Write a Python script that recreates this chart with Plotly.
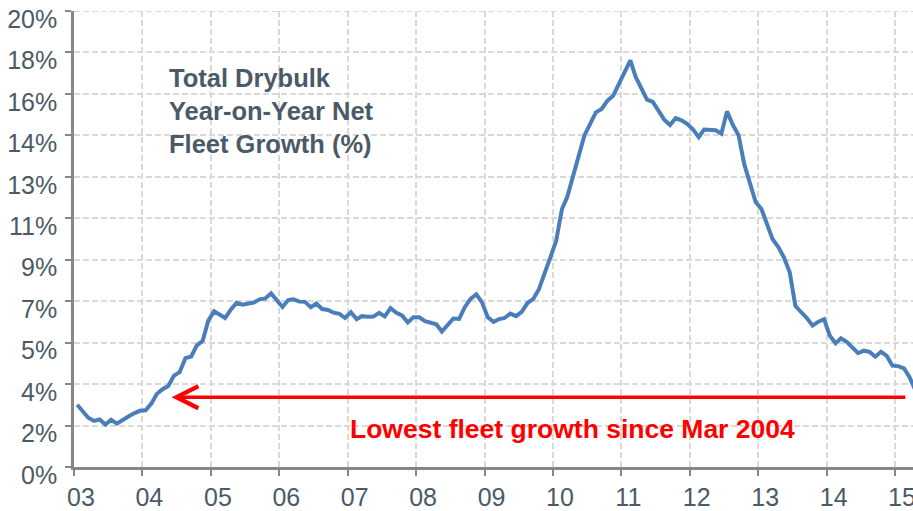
import pandas as pd
import plotly.graph_objects as go

# Monthly year-on-year net fleet growth (%), Jan 2003 onwards
growth = [
    2.70, 2.38, 2.14, 2.00, 2.06, 1.84, 2.05, 1.88, 2.06, 2.19, 2.33, 2.44,   # 2003
    2.46, 2.75, 3.17, 3.38, 3.52, 3.97, 4.12, 4.73, 4.80, 5.28, 5.48, 6.36,   # 2004
    6.76, 6.62, 6.47, 6.84, 7.13, 7.05, 7.08, 7.14, 7.28, 7.32, 7.54, 7.22,   # 2005
    6.95, 7.25, 7.28, 7.18, 7.17, 6.94, 7.10, 6.86, 6.82, 6.70, 6.65, 6.47,   # 2006
    6.72, 6.42, 6.55, 6.52, 6.53, 6.69, 6.54, 6.90, 6.70, 6.58, 6.28, 6.50,   # 2007
    6.50, 6.33, 6.25, 6.20, 5.88, 6.15, 6.45, 6.43, 6.95, 7.30, 7.50, 7.15,   # 2008
    6.50, 6.30, 6.42, 6.47, 6.66, 6.55, 6.74, 7.12, 7.30, 7.72, 8.38, 9.10,   # 2009
    9.82, 11.20, 11.72, 12.55, 13.50, 14.40, 14.86, 15.40, 15.55, 15.90, 16.12, 16.62,  # 2010
    17.20, 17.66, 16.95, 16.46, 15.95, 15.85, 15.44, 15.08, 14.85, 15.15, 15.05, 14.90,  # 2011
    14.66, 14.32, 14.65, 14.64, 14.62, 14.47, 15.44, 14.86, 14.40, 13.15, 12.35, 11.50,  # 2012
    11.20, 10.45, 9.90, 9.55, 9.10, 8.45, 7.00, 6.72, 6.46, 6.14, 6.31, 6.42,  # 2013
    5.70, 5.37, 5.59, 5.44, 5.18, 4.94, 5.05, 5.00, 4.79, 5.00, 4.82, 4.40,   # 2014
    4.38, 4.28, 3.92, 3.37,                                                   # 2015
]
months = pd.date_range("2003-01-01", periods=len(growth), freq="MS") + pd.Timedelta(days=17)

year_ticks = [f"{y}-01-01" for y in range(2003, 2016)]
year_labels = ["03", "04", "05", "06", "07", "08", "09", "10", "11", "12", "13", "14", "15"]

y_tick_vals = [0, 1.8, 3.6, 5.4, 7.2, 9.0, 10.8, 12.6, 14.4, 16.2, 18.0, 19.8]
y_tick_text = ["0%", "2%", "4%", "5%", "7%", "9%", "11%", "13%", "14%", "16%", "18%", "20%"]

arrow_level = 3.03
arrow_tip = "2004-06-05"
arrow_tail = "2015-03-05"

FONT = "Arial, Liberation Sans, sans-serif"
TXT = "#4b5a66"
AX = "#868686"
GRID = "#d9d9d9"

fig = go.Figure()
fig.add_trace(go.Scatter(
    x=months, y=growth, mode="lines",
    line=dict(color="#4a7ebb", width=4),
    hoverinfo="skip", showlegend=False,
))

# top dashed gridline (plotly drops the gridline on the range edge)
fig.add_shape(
    type="line", xref="paper", yref="y", x0=0, x1=1, y0=y_tick_vals[-1], y1=y_tick_vals[-1],
    line=dict(color=GRID, width=1.8, dash="6px,3px"), layer="below",
)

fig.add_annotation(
    x=arrow_tip, y=arrow_level, xref="x", yref="y",
    ax=arrow_tail, ay=arrow_level, axref="x", ayref="y",
    text="", showarrow=True, arrowhead=5, arrowsize=1.2,
    arrowwidth=3.6, arrowcolor="#ff0000", standoff=0, startstandoff=0,
)
fig.add_annotation(
    x=0.5936, y=0.084, xref="paper", yref="paper",
    text="<b>Lowest fleet growth since Mar 2004</b>", showarrow=False,
    font=dict(family=FONT, size=26.5, color="#ff0000"),
    xanchor="center", yanchor="middle",
)
fig.add_annotation(
    x=0.111, y=0.888, xref="paper", yref="paper",
    text="<b>Total Drybulk<br>Year-on-Year Net<br>Fleet Growth (%)</b>",
    showarrow=False, align="left",
    font=dict(family=FONT, size=25.5, color=TXT),
    xanchor="left", yanchor="top",
)

fig.update_layout(
    width=913, height=511,
    margin=dict(l=74, r=0, t=11, b=44),
    paper_bgcolor="white", plot_bgcolor="white",
    font=dict(family=FONT, color=TXT),
    xaxis=dict(
        type="date", range=["2003-01-01", "2015-04-07"],
        tickmode="array", tickvals=year_ticks, ticktext=year_labels,
        showgrid=True, gridcolor=GRID, gridwidth=1.8, griddash="6px,3px",
        showline=True, linecolor=AX, linewidth=2.5,
        ticks="outside", ticklen=6, tickwidth=2, tickcolor=AX,
        tickfont=dict(family=FONT, size=25, color=TXT),
        ticklabelshift=7,
        zeroline=False, automargin=False, ticklabeloverflow="allow",
    ),
    yaxis=dict(
        range=[0, 19.8001],
        tickmode="array", tickvals=y_tick_vals, ticktext=y_tick_text,
        showgrid=True, gridcolor=GRID, gridwidth=1.8, griddash="6px,3px",
        showline=True, linecolor=AX, linewidth=2.5,
        ticks="outside", ticklen=6, tickwidth=2, tickcolor=AX,
        tickfont=dict(family=FONT, size=25, color=TXT),
        ticklabelshift=8, ticklabelstandoff=3,
        zeroline=False, automargin=False, ticklabeloverflow="allow",
    ),
)

fig.write_html(
    "out.html",
    config={"displayModeBar": False},
    post_script="document.body.style.margin='0';",
)
